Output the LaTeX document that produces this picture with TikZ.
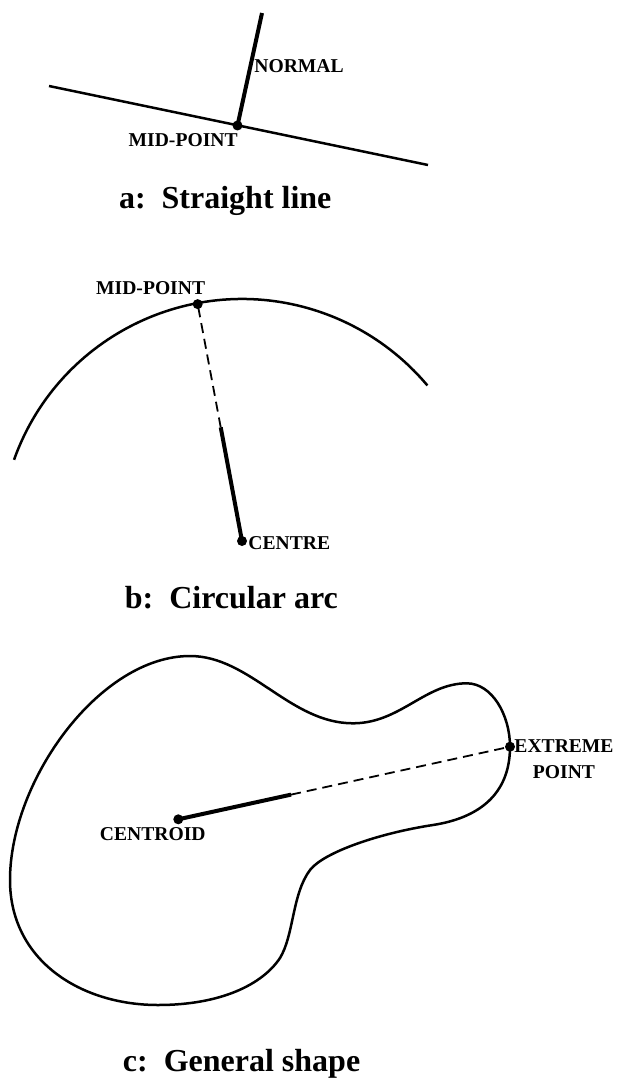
\documentclass[tikz,border=0pt]{standalone}
\usepackage{fontspec}
\setmainfont{Liberation Serif}
\usetikzlibrary{calc, positioning}

\begin{document}
\begin{tikzpicture}[
    x=0.5pt, y=-0.5pt,
    dot/.style={circle, fill=black, inner sep=0pt, minimum size=5pt},
    lbl/.style={font=\fontsize{9.8}{13}\selectfont\bfseries, inner sep=0pt},
    caption/.style={font=\fontsize{16}{19}\selectfont\bfseries, inner sep=0pt},
    outline/.style={line width=1.25pt},
    heavy/.style={line width=2pt},
    dashline/.style={line width=0.9pt, dash pattern=on 5pt off 3pt}
]
\useasboundingbox (0,0) rectangle (619,1086);

% a: straight line
\coordinate (la) at (49,86);
\coordinate (lb) at (428,165);
\coordinate (ntop) at (262,13);
\node[dot] (mida) at (237.5,125.5) {};
\draw[outline] (la) -- (lb);
\draw[heavy] (mida.center) -- (ntop);
\node[lbl, anchor=base west] (normal) at (254,72.7) {NORMAL};
\node[lbl, anchor=base east] (midlbla) at (238,147) {MID-POINT};
\node[caption, anchor=base west] (capa) at (118.6,208) {a:\ \ Straight line};

% b: circular arc
\node[dot] (ctr) at (242,541) {};
\coordinate (arcl) at ($(ctr)+(-160.4:242)$);
\draw[outline] (arcl) arc[start angle=-160.4, end angle=-40, radius=242];
\node[dot] (midb) at ($(ctr)+(-100.6:241)$) {};
\coordinate (split) at ($(ctr)!0.48!(midb)$);
\draw[heavy] (ctr.center) -- (split);
\draw[dashline] (split) -- (midb.center);
\node[lbl, anchor=base east] (midlblb) at (205.5,294.3) {MID-POINT};
\node[lbl, anchor=base west] (centre) at (248,549) {CENTRE};
\node[caption, anchor=base west] (capb) at (124.5,608) {b:\ \ Circular arc};

% c: general shape
\draw[outline] (190,656) .. controls (250,656) and (290,723.3) .. (353,723.3)
    .. controls (400,723.3) and (425,683.3) .. (466.7,683.3)
    .. controls (492,683.3) and (510,715) .. (510,746.7)
    .. controls (510,795) and (478,818) .. (433,825)
    .. controls (380,833) and (324,852) .. (310,870)
    .. controls (292,894) and (294,935) .. (280,958)
    .. controls (262,985) and (220,1005) .. (158,1005)
    .. controls (80,1005) and (10,960) .. (10,880)
    .. controls (10,780) and (100,656) .. (190,656) -- cycle;
\node[dot] (cent) at (178.3,819.3) {};
\node[dot] (xpt) at (510,746.7) {};
\coordinate (cut) at ($(cent)!0.34!(xpt)$);
\draw[heavy] (cent.center) -- (cut);
\draw[dashline] (cut) -- (xpt.center);
\node[lbl, anchor=base east] (centlbl) at (206,840.7) {CENTROID};
\node[lbl, align=center, anchor=north] (xlbl) at (564,739) {EXTREME\\POINT};
\node[caption, anchor=base west] (capc) at (122.5,1071.7) {c:\ \ General shape};

\end{tikzpicture}
\end{document}
